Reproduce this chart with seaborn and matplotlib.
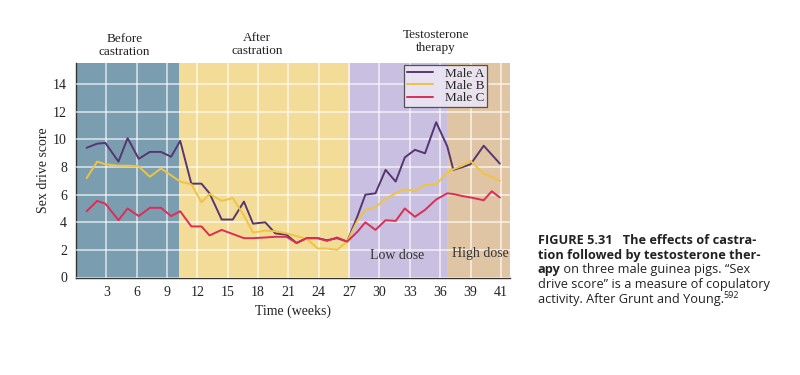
import pandas as pd
import seaborn as sns
import matplotlib.pyplot as plt

# week positions of the plotted points (as drawn)
weeks = [1.05, 2.1, 2.9, 4.2, 5.1, 6.2, 7.3, 8.4, 9.4, 10.3,
         11.4, 12.4, 13.2, 14.4, 15.5, 16.6, 17.5, 18.7, 19.7, 20.8,
         21.8, 22.8, 23.9, 24.8, 25.8, 26.8, 27.8, 28.6, 29.6, 30.6,
         31.6, 32.5, 33.5, 34.5, 35.6, 36.7, 37.3, 38.2, 39.0, 40.3,
         41.1, 41.9]
male_a = [9.4, 9.7, 9.75, 8.4, 10.1, 8.6, 9.1, 9.1, 8.75, 9.9,
          6.8, 6.8, 6.1, 4.2, 4.2, 5.5, 3.9, 4.0, 3.2, 3.1,
          2.5, 2.85, 2.85, 2.7, 2.85, 2.6, 4.4, 6.0, 6.1, 7.8,
          6.95, 8.7, 9.25, 9.0, 11.25, 9.5, 7.8, 8.0, 8.2, 9.55,
          8.9, 8.25]
male_b = [7.2, 8.4, 8.2, 8.1, 8.1, 8.05, 7.3, 7.9, 7.4, 6.95,
          6.75, 5.45, 6.05, 5.55, 5.75, 4.5, 3.25, 3.4, 3.35, 3.2,
          3.0, 2.8, 2.1, 2.1, 2.0, 2.6, 4.1, 4.9, 5.1, 5.7,
          6.1, 6.4, 6.25, 6.7, 6.75, 7.6, 7.85, 8.1, 8.45, 7.5,
          7.3, 7.0]
male_c = [4.8, 5.55, 5.35, 4.15, 5.0, 4.45, 5.05, 5.05, 4.45, 4.8,
          3.7, 3.7, 3.05, 3.45, 3.15, 2.85, 2.85, 2.9, 2.95, 2.95,
          2.5, 2.85, 2.85, 2.65, 2.9, 2.6, 3.3, 4.0, 3.45, 4.15,
          4.1, 5.0, 4.4, 4.9, 5.65, 6.1, 6.05, 5.9, 5.8, 5.6,
          6.25, 5.8]

# phases: (start, end) in weeks
phase_edges = [0, 10.2, 27.1, 36.7, 42.9]
phase_colors = ["#7a9eb0", "#f3dc98", "#c9bfe0", "#e0c5a4"]

xtick_pos = [3, 6, 9, 12, 15, 18, 21, 24, 27, 30, 33, 36, 39, 42]
xtick_labels = ["3", "6", "9", "12", "15", "18", "21", "24", "27",
                "30", "33", "36", "39", "41"]

df = pd.DataFrame({
    "week": weeks * 3,
    "score": male_a + male_b + male_c,
    "male": ["Male A"] * len(weeks) + ["Male B"] * len(weeks) + ["Male C"] * len(weeks),
})

sns.set_theme(style="white")
plt.rcParams["font.family"] = ["Liberation Serif", "DejaVu Serif"]

fig = plt.figure(figsize=(8, 3.75), dpi=100)
ax = fig.add_axes([0.095, 0.26, 0.5425, 0.573])

for i, c in enumerate(phase_colors):
    ax.axvspan(phase_edges[i], phase_edges[i + 1], color=c, lw=0, zorder=0)

palette = {"Male A": "#563672", "Male B": "#eec441", "Male C": "#dc2d55"}
sns.lineplot(data=df, x="week", y="score", hue="male", palette=palette,
             lw=1.4, ax=ax, zorder=3)

ax.set_xlim(0, 42.9)
ax.set_ylim(0, 15.57)
ax.set_xticks(xtick_pos)
ax.set_xticklabels(xtick_labels)
ax.set_yticks(range(0, 16, 2))
ax.grid(True, color="white", lw=1.1, alpha=0.75)
ax.set_axisbelow(False)
for gl in ax.get_xgridlines() + ax.get_ygridlines():
    gl.set_zorder(1)
ax.tick_params(axis="x", direction="in", length=4, width=0.9, colors="#333",
               labelsize=10, pad=6, labelcolor="#222")
ax.tick_params(axis="y", direction="out", length=3, width=0.9, colors="#333",
               labelsize=10, labelcolor="#222")
for s in ["top", "right"]:
    ax.spines[s].set_visible(False)
for s in ["left", "bottom"]:
    ax.spines[s].set_color("#333")
    ax.spines[s].set_linewidth(1.0)

ax.set_xlabel("Time (weeks)", fontsize=10, color="#222", labelpad=4)
ax.set_ylabel("Sex drive score", fontsize=10, color="#222", labelpad=2)

leg = ax.legend(loc="upper right", bbox_to_anchor=(0.947, 0.99), frameon=True,
                fancybox=False, fontsize=9.5, handlelength=2.0,
                borderpad=0.2, labelspacing=0.0, handletextpad=0.9,
                borderaxespad=0)
leg.get_frame().set_edgecolor("#444")
leg.get_frame().set_linewidth(0.9)
leg.get_frame().set_facecolor("#ebe5f3")
leg.get_frame().set_alpha(0.9)
leg.set_title(None)

# phase headers above the plot
ax.text(4.8, 15.9, "Before\ncastration", ha="center", va="bottom",
        fontsize=9.5, color="#222", linespacing=1.1)
ax.text(17.9, 15.95, "After\ncastration", ha="center", va="bottom",
        fontsize=9.5, color="#222", linespacing=1.1)
ax.text(35.6, 16.2, "Testosterone\ntherapy", ha="center", va="bottom",
        fontsize=9.5, color="#222", linespacing=1.1)
ax.text(31.7, 1.6, "Low dose", ha="center", va="center", fontsize=10, color="#333")
ax.text(40.0, 1.75, "High dose", ha="center", va="center", fontsize=10, color="#333")

# caption
cap = dict(family=["Open Sans", "DejaVu Sans"], fontsize=9.2, color="#222")
fig.text(0.672, 0.349, "FIGURE 5.31   The effects of castra-", weight="bold", **cap)
fig.text(0.672, 0.310, "tion followed by testosterone ther-", weight="bold", **cap)
t3 = fig.text(0.672, 0.271, "apy", weight="bold", **cap)
ax.annotate(" on three male guinea pigs. \u201cSex", xy=(1, 0), xycoords=t3,
            va="bottom", ha="left", annotation_clip=False, **cap)
fig.text(0.672, 0.232, "drive score\u201d is a measure of copulatory", **cap)
t5 = fig.text(0.672, 0.193, "activity. After Grunt and Young.", **cap)
ax.annotate("592", xy=(1, 0.45), xycoords=t5, va="bottom", ha="left",
            annotation_clip=False, family=["Open Sans", "DejaVu Sans"],
            fontsize=6.5, color="#222")

fig.savefig("out.png", dpi=100)
